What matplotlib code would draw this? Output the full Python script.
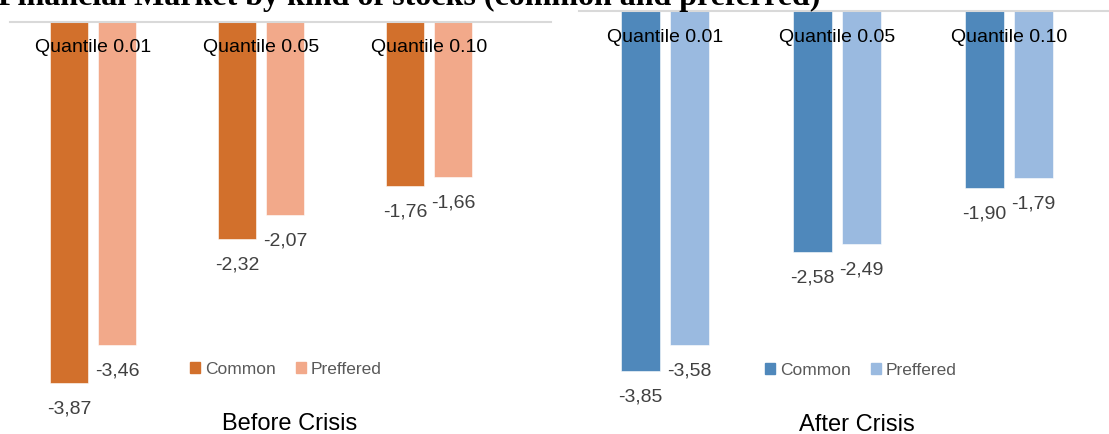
import numpy as np
import matplotlib
matplotlib.use("Agg")
import matplotlib.pyplot as plt
from matplotlib.patches import Patch

quantiles = ["Quantile 0.01", "Quantile 0.05", "Quantile 0.10"]
before_common = [-3.87, -2.32, -1.76]
before_pref = [-3.46, -2.07, -1.66]
after_common = [-3.85, -2.58, -1.90]
after_pref = [-3.58, -2.49, -1.79]

orange = "#D2702C"
salmon = "#F2A98A"
blue = "#4F88BB"
lightblue = "#9ABAE0"

W, H = 1109, 435
plt.rcParams['font.family'] = ['Liberation Sans', 'DejaVu Sans']
fig = plt.figure(figsize=(W / 100, H / 100), dpi=100)


def px_axes(x0, x1, y_top, y_bot):
    return fig.add_axes([x0 / W, 1 - y_bot / H, (x1 - x0) / W, (y_bot - y_top) / H])


def fmt(v):
    return ("%.2f" % v).replace(".", ",")


def panel(ax, common, pref, c1, c2, xlim, ylim, off, width, name, name_xy, leg_xy):
    x = np.arange(len(quantiles))
    ax.bar(x - off, common, width, color=c1, edgecolor="white", linewidth=0.4)
    ax.bar(x + off, pref, width, color=c2, edgecolor="white", linewidth=0.4)
    ax.set_xlim(*xlim)
    ax.set_ylim(*ylim)
    for s in ["left", "right", "bottom"]:
        ax.spines[s].set_visible(False)
    ax.spines["top"].set_color("#d9d9d9")
    ax.spines["top"].set_linewidth(1.5)
    ax.set_xticks([])
    ax.set_yticks([])
    # category names sit just under the zero line, over the bars
    for i, q in enumerate(quantiles):
        ax.annotate(q, (i, 0), xytext=(0, -25), textcoords="offset pixels",
                    ha="center", va="center", fontsize=14, color="black",
                    annotation_clip=False)
    for xs, vals in [(x - off, common), (x + off, pref)]:
        for xi, v in zip(xs, vals):
            ax.annotate(fmt(v), (xi, v), xytext=(0, -25), textcoords="offset pixels",
                        ha="center", va="center", fontsize=14, color="#404040",
                        annotation_clip=False)
    handles = [Patch(color=c1, label="Common"), Patch(color=c2, label="Preffered")]
    leg = fig.legend(handles=handles, loc="center", ncol=2, frameon=False,
                     bbox_to_anchor=(leg_xy[0] / W, 1 - leg_xy[1] / H),
                     fontsize=12.5, handlelength=0.55, handleheight=0.55,
                     handletextpad=0.3, columnspacing=1.2)
    for t in leg.get_texts():
        t.set_color("#595959")
    fig.text(name_xy[0] / W, 1 - name_xy[1] / H, name, ha="center", va="center",
             fontsize=17, color="black")


scale = 93.4  # pixels per unit

ax1 = px_axes(10, 551, 23, 435)
panel(ax1, before_common, before_pref, orange, salmon,
      (-83 / 168, (551 - 10 - 83) / 168), (-(435 - 23) / scale, 0),
      24 / 168, 38 / 168, "Before Crisis", (290, 424), (286, 370))

ax2 = px_axes(579, 1109, 12, 435)
panel(ax2, after_common, after_pref, blue, lightblue,
      (-86 / 172, (1109 - 579 - 86) / 172), (-(435 - 12) / scale, 0),
      24.5 / 172, 39 / 172, "After Crisis", (857, 425), (861, 371))

fig.text(-2 / W, 1 - 5 / H, "Financial Market by kind of stocks (common and preferred)",
         ha="left", va="baseline", fontsize=23, fontweight="bold",
         family=["Liberation Serif", "DejaVu Serif"], color="black")

fig.savefig("out.png", dpi=100)
